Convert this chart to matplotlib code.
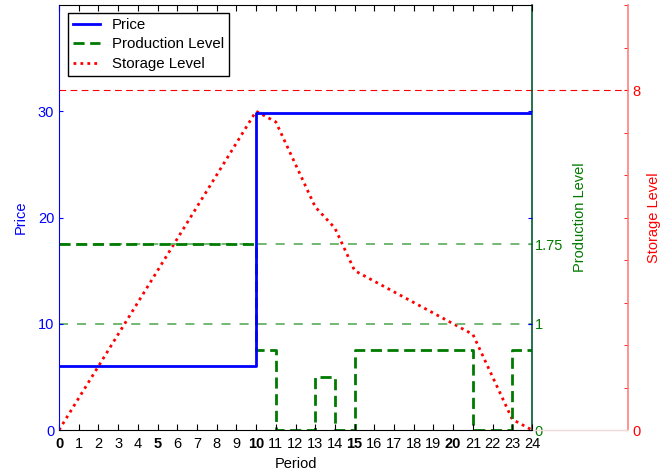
"""Price, production and storage over one 24-period horizon -> out.png"""

import matplotlib

matplotlib.use("Agg")
import matplotlib.pyplot as plt
from matplotlib.ticker import FixedLocator

plt.rcParams["font.family"] = ["Liberation Sans", "DejaVu Sans"]

periods = list(range(25))
price = [6] * 10 + [29.8] * 15           # value held over [t, t+1)
production = [1.75] * 10 + [0.75, 0, 0, 0.5, 0, 0.75, 0.75, 0.75, 0.75, 0.75, 0.75,
                            0, 0, 0.75, 0.75]
storage = [0, 0.75, 1.5, 2.25, 3.0, 3.75, 4.5, 5.25, 6.0, 6.75, 7.5,
           7.25, 6.25, 5.25, 4.75, 3.75, 3.5, 3.25, 3.0, 2.75, 2.5, 2.25,
           1.25, 0.25, 0]
prod_ticks = [0, 1, 1.75]
storage_ref = 8
bold_periods = [0, 5, 10, 15, 20]

BLUE = "#0000ff"
GREEN = "#007a00"
RED = "#ff0000"
FS = 10.5

fig = plt.figure(figsize=(6.6, 4.75), dpi=100)
ax = fig.add_axes([59 / 660, 45 / 475, 473 / 660, 425 / 475])
ax2 = ax.twinx()
ax3 = ax.twinx()
ax.set_zorder(3)
ax.patch.set_visible(False)
ax2.set_zorder(2)
ax3.set_zorder(1)

# price axis (left)
ax.step(periods, price, where="post", color=BLUE, lw=2, label="Price")
ax.set_xlim(0, 24)
ax.set_ylim(0, 40)
ax.set_yticks([0, 10, 20, 30])
ax.set_xticks(periods)
ax.set_xticklabels([str(p) for p in periods], fontsize=FS)
for lbl, p in zip(ax.get_xticklabels(), periods):
    if p in bold_periods:
        lbl.set_fontweight("bold")
ax.tick_params(axis="x", direction="in", top=True, length=4, pad=5)
ax.tick_params(axis="y", direction="in", colors=BLUE, labelsize=FS, length=3, right=True)
ax.spines["left"].set_color(BLUE)
ax.spines["right"].set_visible(False)
ax.set_xlabel("Period", fontsize=FS, labelpad=4)
ax.set_ylabel("Price", color=BLUE, fontsize=FS, labelpad=7)

# production axis (first right)
ax2.set_ylim(0, 4)
for lvl in prod_ticks[1:]:
    ax2.axhline(lvl, color="#66b266", lw=1.3, ls=(0, (5, 5)))
ax2.step(periods, production, where="post", color=GREEN, lw=2, ls=(0, (4, 2)),
         label="Production Level")
ax2.set_yticks(prod_ticks)
ax2.set_yticklabels(["0", "1", "1.75"])
ax2.tick_params(axis="y", direction="in", colors=GREEN, labelsize=FS, length=3, pad=2)
ax2.spines["right"].set_color("#005a30")
ax2.spines["right"].set_linewidth(1.2)
for s in ("left", "top", "bottom"):
    ax2.spines[s].set_visible(False)
ax2.set_ylabel("Production Level", color=GREEN, fontsize=FS, labelpad=7)

# storage axis (outer right)
spine_pos = 569 / 473
ax3.set_ylim(0, 10)
ax3.axhline(storage_ref, xmin=0, xmax=spine_pos, clip_on=False,
            color=RED, lw=0.8, ls=(0, (6, 4)))
ax3.plot(periods, storage, color=RED, lw=2, ls=(0, (1, 1.5)), label="Storage Level")
ax3.spines["right"].set_position(("axes", spine_pos))
ax3.spines["right"].set_color("#ff8080")
ax3.spines["right"].set_linewidth(1.2)
for s in ("left", "top", "bottom"):
    ax3.spines[s].set_visible(False)
ax3.yaxis.set_major_locator(FixedLocator([0, storage_ref]))
ax3.yaxis.set_minor_locator(FixedLocator(range(11)))
ax3.tick_params(axis="y", which="both", direction="in", colors=RED, labelsize=FS,
                length=3, pad=3)
ax3.set_ylabel("Storage Level", color=RED, fontsize=FS, labelpad=5)
ax.axhline(0, xmin=1, xmax=spine_pos, clip_on=False, color="#f0dada", lw=1)

handles = [ax.lines[0], ax2.lines[-1], ax3.lines[-1]]
leg = ax.legend(handles, [h.get_label() for h in handles], loc="upper left",
                bbox_to_anchor=(9 / 473, 1 - 8 / 425), borderaxespad=0,
                fancybox=False, edgecolor="black", framealpha=1, fontsize=10.8,
                handlelength=1.8, handletextpad=0.75, borderpad=0.35,
                labelspacing=0.35)
leg.get_frame().set_linewidth(1)

fig.savefig("out.png", dpi=100)
